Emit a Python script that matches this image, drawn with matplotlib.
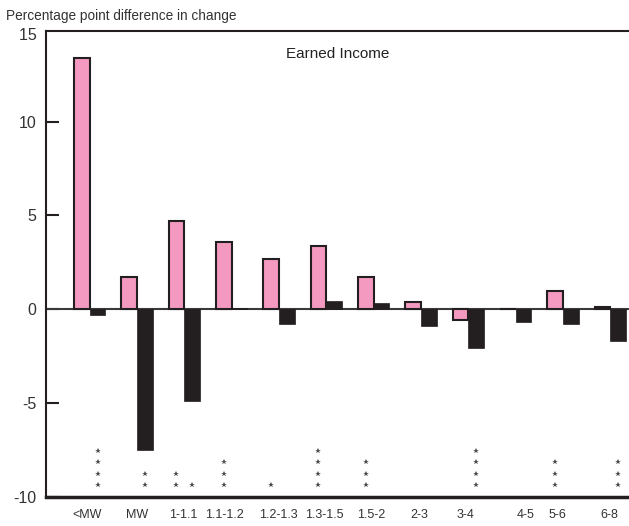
import matplotlib
matplotlib.use("Agg")
import matplotlib.pyplot as plt
import numpy as np

categories = ["<MW", "MW", "1-1.1", "1.1-1.2", "1.2-1.3", "1.3-1.5", "1.5-2",
              "2-3", "3-4", "4-5", "5-6", "6-8"]
pink_values = [13.4, 1.7, 4.7, 3.6, 2.7, 3.4, 1.7, 0.37, -0.57, 0.0, 1.0, 0.15]
black_values = [-0.3, -7.5, -4.9, 0.05, -0.8, 0.42, 0.33, -0.9, -2.05, -0.7, -0.8, -1.7]
# significance stars: count under the pink bar and under the black bar
pink_stars = [0, 0, 2, 3, 1, 4, 3, 0, 0, 0, 3, 0]
black_stars = [4, 2, 1, 0, 0, 0, 0, 0, 4, 0, 0, 3]
yticks = [-10, -5, 0, 5, 10]
title = "Earned Income"
ylabel = "Percentage point difference in change"

FONT = ["Liberation Sans", "DejaVu Sans"]
PINK = "#F49AC1"
DARK = "#231F20"

fig = plt.figure(figsize=(6.29, 5.26), dpi=100)
ax = fig.add_axes([46/629, 29/526, 1 - 46/629, (497-31)/526])

x = np.arange(len(categories))
w = 0.332
ax.bar(x - w/2, pink_values, width=w, color=PINK, edgecolor=DARK, linewidth=1.5, zorder=3)
ax.bar(x + w/2, black_values, width=w, color=DARK, edgecolor=DARK, linewidth=0.5, zorder=3)
ax.axhline(0, color="#3a3a3a", linewidth=1.5, zorder=2)

# stars
row0, dy = -9.36, 0.6
for i in range(len(categories)):
    for xs, n in ((x[i] - w/2, pink_stars[i]), (x[i] + w/2, black_stars[i])):
        for k in range(n):
            ax.plot(xs, row0 + k*dy, marker="*", color="#4a4a4a", markersize=4.2,
                    markeredgewidth=0, linestyle="none", clip_on=False, zorder=4)

ax.set_xlim(-0.923, 11.394)
ax.set_ylim(-10, 14.83)

ax.spines["right"].set_visible(False)
for s in ["left", "top"]:
    ax.spines[s].set_linewidth(1.5)
    ax.spines[s].set_color(DARK)
ax.spines["bottom"].set_linewidth(2.5)
ax.spines["bottom"].set_color(DARK)

ax.set_yticks(yticks)
ax.set_yticklabels([str(v) for v in yticks], family=FONT, fontsize=11.5, color="#333333")
ax.tick_params(axis="y", direction="in", length=9, width=1.5, color=DARK, pad=7)
ax.text(-0.923, 14.6, "15  ", transform=ax.transData, ha="right", va="center",
        family=FONT, fontsize=11.5, color="#333333", clip_on=False)

label_nudge = [-0.06, 0.0, -0.02, -0.15, -0.02, -0.04, -0.06, -0.04, -0.05, 0.21, -0.12, -0.03]
ax.set_xticks(x + np.array(label_nudge))
ax.set_xticklabels(categories, family=FONT, fontsize=9, color="#333333")
ax.tick_params(axis="x", length=0, pad=9)

ax.text(0.5, 0.965, title, transform=ax.transAxes, ha="center", va="top",
        fontsize=11, family=FONT, color="#222222")
fig.text(6/629, 1 - 16/526, ylabel, ha="left", va="center", family=FONT,
         fontsize=9.8, color="#333333")

fig.savefig("out.png", dpi=100)
